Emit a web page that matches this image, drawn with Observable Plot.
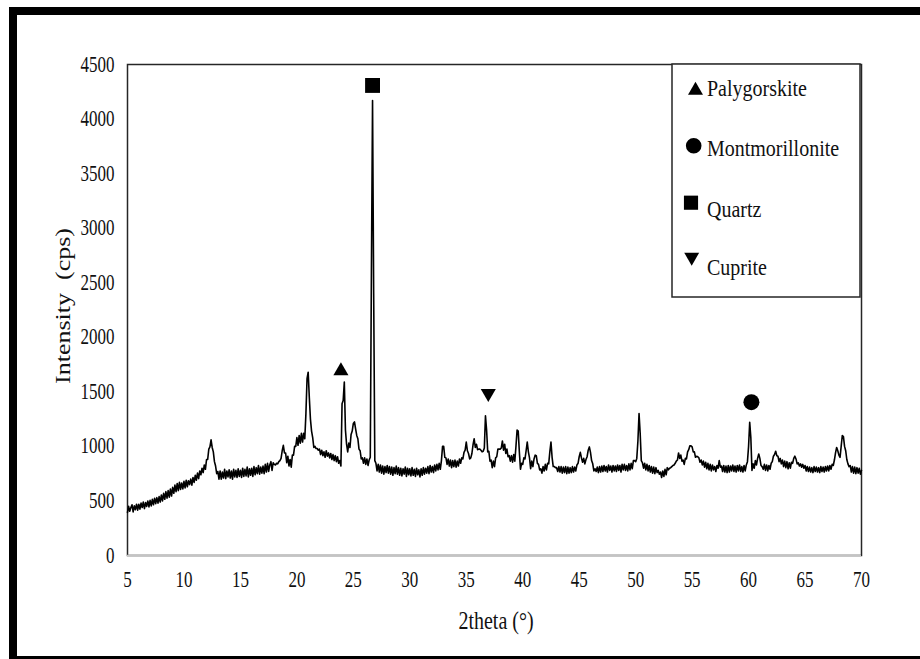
<!DOCTYPE html>
<html>
<head>
<meta charset="utf-8">
<script src="https://cdn.jsdelivr.net/npm/d3@7"></script>
<script src="https://cdn.jsdelivr.net/npm/@observablehq/plot@0.6"></script>
<style>
html, body { margin: 0; padding: 0; background: #fff; overflow: hidden; }
#wrap { position: relative; width: 920px; height: 659px; overflow: hidden; font-family: "Liberation Serif", "Times New Roman", serif; }
#wrap > svg { position: absolute; left: 0; top: 0; }
#overlay { pointer-events: none; }
</style>
</head>
<body>
<div id="wrap"></div>
<script>
// ---- data ----
const angleStart = 5;      // first 2theta value (°)
const angleStep = 0.1;     // sampling step (°)
const intensity = [
  395, 450, 405, 440, 465, 400, 455, 420, 470, 415,       // 5
  470, 425, 480, 440, 490, 430, 485, 450, 500, 445,       // 6
  505, 455, 515, 465, 525, 475, 530, 480, 540, 490,       // 7
  555, 500, 570, 515, 585, 525, 595, 535, 610, 545,       // 8
  625, 570, 645, 585, 660, 595, 670, 605, 665, 610,       // 9
  680, 620, 690, 630, 685, 650, 700, 645, 715, 670,       // 10
  735, 690, 755, 705, 775, 740, 800, 760, 830, 790,       // 11
  880, 880, 975, 995, 1060, 990, 950, 860, 820, 750,      // 12
  770, 700, 775, 700, 765, 710, 790, 705, 775, 720,       // 13
  785, 710, 775, 700, 790, 720, 780, 715, 795, 725,       // 14
  780, 715, 800, 725, 790, 730, 810, 720, 795, 735,       // 15
  800, 725, 815, 740, 805, 750, 825, 745, 810, 755,       // 16
  820, 750, 835, 765, 845, 770, 830, 860, 780, 850,       // 17
  835, 830, 845, 840, 860, 870, 890, 960, 1010, 940,      // 18
  940, 850, 910, 820, 880, 810, 920, 920, 1000, 1000,     // 19
  1080, 1010, 1100, 1030, 1120, 1040, 1120, 1070, 1300, 1620, // 20
  1680, 1450, 1250, 1140, 1080, 990, 1000, 980, 980, 965,     // 21
  975, 925, 965, 915, 950, 900, 960, 910, 940, 895,       // 22
  935, 880, 925, 870, 915, 860, 905, 845, 870, 820,       // 23
  1390, 1420, 1590, 1150, 1020, 950, 1030, 990, 1110, 1140,   // 24
  1210, 1225, 1160, 1100, 1070, 975, 960, 885, 895, 845,  // 25
  895, 835, 885, 825, 875, 900, 2600, 4170, 2400, 870,    // 26
  845, 775, 835, 765, 830, 755, 820, 745, 815, 760,       // 27
  825, 755, 815, 745, 810, 735, 805, 750, 820, 745,       // 28
  805, 735, 800, 730, 795, 745, 810, 725, 800, 740,       // 29
  795, 730, 805, 735, 790, 725, 800, 740, 785, 720,       // 30
  795, 735, 805, 745, 800, 755, 815, 750, 825, 765,       // 31
  815, 760, 830, 775, 835, 785, 845, 790, 870, 1000,      // 32
  1000, 900, 895, 835, 885, 820, 875, 805, 870, 815,      // 33
  875, 810, 865, 820, 885, 845, 895, 885, 945, 965,       // 34
  1040, 960, 935, 885, 895, 935, 1015, 1070, 990, 1020,   // 35
  970, 975, 975, 965, 950, 955, 985, 1280, 1150, 950,     // 36
  955, 865, 875, 805, 865, 815, 895, 905, 975, 975,       // 37
  975, 985, 1050, 965, 1020, 935, 975, 905, 915, 865,     // 38
  915, 855, 925, 865, 1000, 1150, 1140, 950, 790, 845,    // 39
  835, 895, 885, 960, 1040, 950, 895, 795, 865, 815,      // 40
  885, 920, 915, 845, 835, 785, 795, 755, 815, 775,       // 41
  835, 785, 845, 840, 950, 1040, 900, 815, 815, 805,      // 42
  805, 770, 815, 765, 815, 755, 810, 760, 815, 750,       // 43
  810, 755, 805, 760, 815, 765, 810, 775, 830, 845,       // 44
  905, 945, 895, 855, 890, 840, 880, 905, 965, 995,       // 45
  945, 870, 840, 775, 795, 770, 810, 760, 815, 765,       // 46
  820, 770, 825, 775, 815, 765, 830, 780, 820, 765,       // 47
  825, 775, 820, 770, 830, 780, 825, 765, 835, 785,       // 48
  835, 780, 825, 775, 840, 785, 845, 795, 870, 870,       // 49
  860, 890, 1050, 1300, 1120, 870, 850, 800, 845, 785,    // 50
  835, 775, 825, 765, 815, 755, 810, 750, 805, 760,       // 51
  780, 745, 765, 715, 775, 725, 790, 740, 805, 785,       // 52
  800, 805, 815, 825, 830, 845, 865, 875, 940, 890,       // 53
  920, 865, 875, 835, 890, 885, 950, 970, 1005, 1005,     // 54
  995, 950, 950, 900, 910, 905, 895, 855, 875, 830,       // 55
  865, 810, 855, 795, 845, 785, 835, 775, 830, 785,       // 56
  815, 770, 825, 800, 870, 810, 820, 770, 825, 765,       // 57
  820, 760, 825, 765, 820, 775, 830, 770, 820, 765,       // 58
  825, 775, 830, 770, 815, 765, 825, 775, 830, 860,       // 59
  1000, 1220, 1080, 780, 840, 800, 870, 830, 890, 930,    // 60
  890, 825, 815, 790, 835, 780, 830, 775, 825, 790,       // 61
  845, 860, 910, 925, 955, 915, 910, 860, 890, 840,       // 62
  875, 815, 865, 805, 860, 795, 850, 800, 855, 845,       // 63
  890, 910, 885, 840, 850, 820, 840, 810, 835, 800,       // 64
  825, 775, 815, 770, 810, 765, 805, 760, 815, 770,       // 65
  810, 765, 805, 760, 815, 770, 810, 765, 815, 775,       // 66
  820, 775, 825, 790, 835, 825, 875, 940, 990, 960,       // 67
  920, 900, 1000, 1100, 1090, 1000, 960, 880, 840, 815,   // 68
  825, 765, 815, 755, 810, 750, 805, 755, 800, 745,       // 69
  780                                                     // 70
];

// phase markers placed above peaks
const markerPhase = ["Palygorskite", "Quartz", "Cuprite", "Montmorillonite"];
const markerAngle = [23.9, 26.7, 36.95, 60.25];
const markerIntensity = [1691, 4308, 1487, 1405];

// legend entries
const legendPhases = ["Palygorskite", "Montmorillonite", "Quartz", "Cuprite"];

// axes
const xTicks = [5, 10, 15, 20, 25, 30, 35, 40, 45, 50, 55, 60, 65, 70];
const yTicks = [0, 500, 1000, 1500, 2000, 2500, 3000, 3500, 4000, 4500];
const xTitle = "2theta (°)";
const yTitle = "Intensity\u00a0\u00a0(cps)";

// ---- build ----
const pattern = intensity.map((v, i) => ({ angle: +(angleStart + i * angleStep).toFixed(1), intensity: v }));
const markers = markerPhase.map((p, i) => ({ phase: p, angle: markerAngle[i], intensity: markerIntensity[i] }));

const sqrt3 = Math.sqrt(3);
const triangleDown = {
  draw(context, size) {
    const y = -Math.sqrt(size / (sqrt3 * 3));
    context.moveTo(0, -y * 2);
    context.lineTo(-sqrt3 * y, y);
    context.lineTo(sqrt3 * y, y);
    context.closePath();
  }
};
const symbolOf = { Palygorskite: d3.symbolTriangle, Montmorillonite: d3.symbolCircle, Quartz: d3.symbolSquare, Cuprite: triangleDown };
const rOf = { Palygorskite: 5.6, Montmorillonite: 8, Quartz: 8.4, Cuprite: 5.6 };

const chart = Plot.plot({
  width: 920,
  height: 659,
  marginLeft: 127,
  marginRight: 59,
  marginTop: 64,
  marginBottom: 104,
  style: { fontFamily: "'Liberation Serif', 'Times New Roman', serif", fontSize: "17px", color: "#111", background: "transparent" },
  x: { domain: [5, 70], ticks: xTicks, tickSize: 0, tickPadding: 18, tickFormat: d => String(d), label: null },
  y: { domain: [0, 4500], ticks: yTicks, tickSize: 0, tickPadding: 13, tickFormat: d => String(d), label: null },
  marks: [
    Plot.frame({ stroke: "#262626", strokeWidth: 1.5 }),
    Plot.ruleY([0], { stroke: "#c4c4c4", strokeWidth: 1.5 }),
    Plot.line(pattern, { x: "angle", y: "intensity", stroke: "#000", strokeWidth: 1.6 }),
    ...markerPhase.map(p => Plot.dot(markers.filter(d => d.phase === p), {
      x: "angle", y: "intensity", symbol: symbolOf[p], r: rOf[p], fill: "#000", stroke: "none"
    }))
  ]
});

const wrap = document.getElementById("wrap");
wrap.appendChild(chart);

// vertical stretch of tick labels, as in the reference
chart.querySelectorAll("text").forEach(t => {
  const b = t.getBBox();
  const cx = b.x + b.width / 2, cy = b.y + b.height / 2;
  const existing = t.getAttribute("transform") || "";
  t.setAttribute("transform", `${existing} translate(${cx},${cy}) scale(1,1.3) translate(${-cx},${-cy})`);
});

// overlay: outer border, axis titles, legend
const ov = d3.create("svg").attr("id", "overlay").attr("width", 920).attr("height", 659)
  .attr("font-family", "'Liberation Serif', 'Times New Roman', serif");

ov.append("rect").attr("x", 13).attr("y", 11).attr("width", 1000).attr("height", 649)
  .attr("fill", "none").attr("stroke", "#000").attr("stroke-width", 8);

ov.append("text").attr("transform", "translate(63,306) rotate(-90) scale(1.3,1)")
  .attr("text-anchor", "middle").attr("dominant-baseline", "central")
  .attr("font-size", 20).attr("fill", "#111").text(yTitle);

ov.append("text").attr("transform", "translate(496,620) scale(1,1.3)")
  .attr("text-anchor", "middle").attr("dominant-baseline", "central")
  .attr("font-size", 20).attr("fill", "#111").text(xTitle);

const lg = ov.append("g");
lg.append("rect").attr("x", 672).attr("y", 64).attr("width", 188).attr("height", 233)
  .attr("fill", "#fff").attr("stroke", "#262626").attr("stroke-width", 1.5);
const legendSym = [
  { cx: 695.5, cy: 90.5, size: 97 },
  { cx: 693.7, cy: 145.7, size: Math.PI * 7.8 * 7.8 },
  { cx: 691, cy: 202.7, size: 200 },
  { cx: 691.7, cy: 257, size: 97 }
];
const legendBaseline = [96, 156, 216.5, 275];
legendPhases.forEach((p, i) => {
  const s = legendSym[i];
  lg.append("path").attr("d", d3.symbol(symbolOf[p], s.size)())
    .attr("transform", `translate(${s.cx},${s.cy})`).attr("fill", "#000");
  lg.append("text").attr("transform", `translate(707,${legendBaseline[i]}) scale(1,1.2)`)
    .attr("font-size", 20).attr("fill", "#111").text(p);
});

wrap.appendChild(ov.node());
</script>
</body>
</html>
